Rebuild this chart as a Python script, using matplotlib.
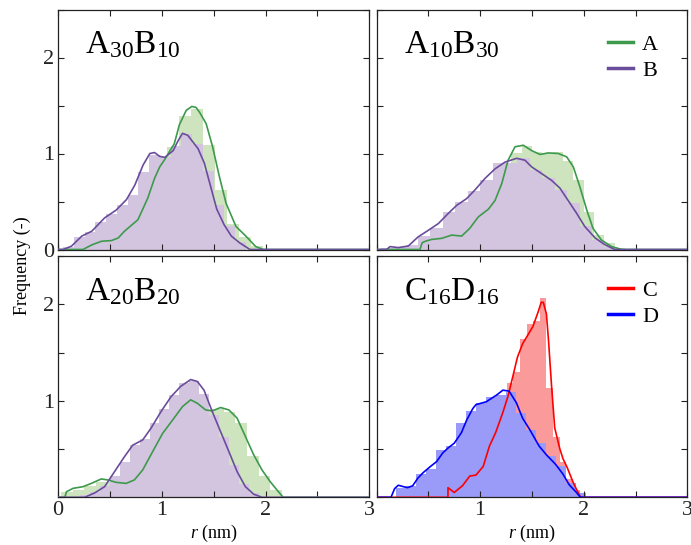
import numpy as np
import matplotlib
matplotlib.use("Agg")
import matplotlib.pyplot as plt
from matplotlib.lines import Line2D
from matplotlib.ticker import MultipleLocator, FuncFormatter

plt.rcParams['font.family'] = 'Liberation Serif'
plt.rcParams['mathtext.fontset'] = 'custom'
plt.rcParams['mathtext.rm'] = 'Liberation Serif'
plt.rcParams['mathtext.it'] = 'Liberation Serif:italic'

# ---------------- data ----------------
titles = ["A$_{30}$B$_{10}$", "A$_{10}$B$_{30}$", "A$_{20}$B$_{20}$", "C$_{16}$D$_{16}$"]

# Panel 1: A30B10
p1_A_start, p1_A_width = 0.24, 0.116
p1_A_hist = [0.05, 0.09, 0.10, 0.18, 0.28, 0.55, 0.87, 1.07, 1.39, 1.46, 1.09, 0.62, 0.27, 0.13, 0.04]
p1_B_start, p1_B_width = 0.05, 0.1035
p1_B_hist = [0.03, 0.13, 0.18, 0.29, 0.375, 0.46, 0.565, 0.81, 0.98, 0.96, 1.08, 1.20, 1.10, 0.82, 0.46, 0.24, 0.08]
p1_A_kx = [0.0, 0.24, 0.33, 0.42, 0.515, 0.58, 0.64, 0.77, 0.865, 0.93, 0.98, 1.03, 1.08, 1.12, 1.17, 1.236, 1.29, 1.33, 1.364, 1.428, 1.49, 1.555, 1.62, 1.715, 1.81, 1.906, 1.98, 3.0]
p1_A_ky = [0, 0, 0.05, 0.086, 0.093, 0.12, 0.19, 0.31, 0.535, 0.74, 0.86, 0.94, 1.03, 1.10, 1.30, 1.45, 1.49, 1.48, 1.43, 1.31, 1.07, 0.76, 0.48, 0.24, 0.14, 0.03, 0, 0]
p1_B_kx = [0.0, 0.05, 0.13, 0.23, 0.325, 0.45, 0.56, 0.66, 0.74, 0.82, 0.885, 0.93, 0.98, 1.03, 1.11, 1.156, 1.20, 1.25, 1.30, 1.35, 1.41, 1.47, 1.53, 1.60, 1.67, 1.75, 1.85, 3.0]
p1_B_ky = [0, 0, 0.035, 0.14, 0.19, 0.33, 0.41, 0.52, 0.67, 0.88, 1.00, 1.01, 0.97, 0.96, 1.03, 1.13, 1.21, 1.19, 1.12, 1.05, 0.90, 0.66, 0.42, 0.26, 0.14, 0.07, 0.0, 0]

# Panel 2: A10B30
p2_A_start, p2_A_width = 0.40, 0.10
p2_A_hist = [0.07, 0.11, 0.13, 0.15, 0.17, 0.30, 0.40, 0.52, 0.82, 1.01, 1.08, 1.02, 1.01, 1.02, 0.92, 0.72, 0.39, 0.15, 0.065, 0.02]
p2_B_start, p2_B_width = 0.04, 0.12
p2_B_hist = [0.02, 0.03, 0.05, 0.14, 0.22, 0.39, 0.50, 0.61, 0.72, 0.90, 0.90, 0.95, 0.83, 0.74, 0.62, 0.48, 0.24, 0.10, 0.03]
p2_A_kx = [0, 0.42, 0.44, 0.47, 0.533, 0.629, 0.726, 0.822, 0.90, 0.983, 1.08, 1.144, 1.21, 1.27, 1.337, 1.417, 1.498, 1.578, 1.658, 1.755, 1.836, 1.90, 1.964, 2.03, 2.09, 2.17, 2.27, 2.37, 3.0]
p2_A_ky = [0, 0, 0.07, 0.085, 0.105, 0.116, 0.15, 0.14, 0.22, 0.34, 0.42, 0.51, 0.69, 0.93, 1.07, 1.086, 1.03, 0.99, 1.006, 1.00, 0.965, 0.86, 0.65, 0.41, 0.22, 0.10, 0.03, 0, 0]
p2_B_kx = [0, 0.098, 0.13, 0.21, 0.307, 0.40, 0.50, 0.597, 0.693, 0.774, 0.87, 0.95, 1.047, 1.144, 1.24, 1.353, 1.433, 1.498, 1.595, 1.69, 1.77, 1.85, 1.93, 2.01, 2.11, 2.205, 2.30, 3.0]
p2_B_ky = [0, 0, 0.03, 0.02, 0.036, 0.13, 0.20, 0.27, 0.376, 0.46, 0.53, 0.62, 0.74, 0.84, 0.91, 0.95, 0.93, 0.86, 0.79, 0.72, 0.64, 0.51, 0.38, 0.24, 0.12, 0.05, 0, 0]

# Panel 3: A20B20
p3_A_start, p3_A_width = 0.03, 0.112
p3_A_hist = [0.05, 0.08, 0.12, 0.16, 0.16, 0.16, 0.22, 0.40, 0.62, 0.75, 0.92, 0.99, 0.92, 0.92, 0.88, 0.77, 0.43, 0.22, 0.08]
p3_B_start, p3_B_width = 0.21, 0.096
p3_B_hist = [0.02, 0.05, 0.12, 0.22, 0.37, 0.54, 0.60, 0.77, 0.92, 1.06, 1.18, 1.20, 1.07, 0.85, 0.62, 0.33, 0.14, 0.04]
p3_A_kx = [0, 0.066, 0.082, 0.146, 0.241, 0.321, 0.417, 0.48, 0.56, 0.656, 0.736, 0.816, 0.912, 1.008, 1.104, 1.20, 1.279, 1.343, 1.423, 1.487, 1.567, 1.647, 1.726, 1.806, 1.886, 1.966, 2.045, 2.11, 2.17, 3.0]
p3_A_ky = [0, 0, 0.058, 0.093, 0.11, 0.144, 0.19, 0.18, 0.155, 0.144, 0.18, 0.283, 0.473, 0.662, 0.80, 0.94, 1.01, 0.974, 0.905, 0.895, 0.93, 0.905, 0.82, 0.63, 0.44, 0.283, 0.162, 0.076, 0, 0]
p3_B_kx = [0, 0.257, 0.353, 0.449, 0.545, 0.64, 0.72, 0.816, 0.896, 0.992, 1.088, 1.183, 1.279, 1.343, 1.407, 1.487, 1.567, 1.647, 1.726, 1.806, 1.886, 1.966, 3.0]
p3_B_ky = [0, 0, 0.045, 0.11, 0.266, 0.42, 0.54, 0.594, 0.715, 0.887, 1.04, 1.15, 1.22, 1.20, 1.11, 0.887, 0.68, 0.473, 0.266, 0.11, 0.032, 0, 0]

# Panel 4: C16D16
p4_C_start, p4_C_width = 0.68, 0.064
p4_C_hist = [0.05, 0.08, 0.15, 0.18, 0.30, 0.45, 0.58, 0.68, 0.85, 1.18, 1.30, 1.64, 1.80, 1.83, 2.06, 1.13, 0.62, 0.37, 0.19, 0.08]
p4_D_start, p4_D_width = 0.19, 0.0963
p4_D_hist = [0.10, 0.12, 0.24, 0.29, 0.49, 0.53, 0.77, 0.89, 0.98, 1.04, 1.06, 1.09, 0.87, 0.70, 0.56, 0.43, 0.32, 0.15, 0.04]
p4_C_kx = [0, 0.69, 0.69, 0.75, 0.83, 0.90, 0.96, 1.03, 1.09, 1.15, 1.22, 1.27, 1.32, 1.36, 1.41, 1.46, 1.51, 1.56, 1.59, 1.61, 1.64, 1.66, 1.69, 1.72, 1.77, 1.80, 1.84, 1.90, 1.95, 1.97, 3.0]
p4_C_ky = [0, 0, 0.10, 0.05, 0.12, 0.22, 0.23, 0.32, 0.53, 0.67, 0.88, 1.05, 1.27, 1.45, 1.59, 1.68, 1.77, 1.92, 2.02, 2.02, 1.90, 1.63, 1.15, 0.72, 0.50, 0.40, 0.31, 0.15, 0.04, 0, 0]
p4_D_kx = [0, 0.14, 0.175, 0.21, 0.26, 0.30, 0.35, 0.40, 0.45, 0.51, 0.58, 0.64, 0.69, 0.75, 0.82, 0.87, 0.93, 0.96, 1.06, 1.16, 1.22, 1.28, 1.35, 1.41, 1.48, 1.57, 1.64, 1.73, 1.80, 1.86, 1.93, 1.96, 1.98, 3.0]
p4_D_ky = [0, 0, 0.09, 0.125, 0.11, 0.10, 0.12, 0.20, 0.255, 0.31, 0.37, 0.46, 0.51, 0.56, 0.67, 0.80, 0.92, 0.96, 0.99, 1.06, 1.11, 1.10, 0.98, 0.82, 0.70, 0.53, 0.44, 0.34, 0.24, 0.13, 0.05, 0.01, 0, 0]

# ---------------- styles ----------------
GREEN_L, GREEN_F = '#3d9a4c', '#cde4bf'
PURP_L, PURP_F = '#6a4c9c', '#d3c5df'
RED_L, RED_F = '#ff0000', '#fa9a9a'
BLUE_L, BLUE_F = '#0000ff', '#9a9af8'

fig = plt.figure(figsize=(6.91, 5.45), dpi=100)
W, H = 691.0, 545.0
def rect(x0, x1, ytop, ybot):
    return [x0 / W, (H - ybot) / H, (x1 - x0) / W, (ybot - ytop) / H]

axes = [
    fig.add_axes(rect(58, 369.3, 9.5, 249.5)),
    fig.add_axes(rect(376.5, 687.3, 9.5, 249.5)),
    fig.add_axes(rect(58, 369.3, 256.0, 497.3)),
    fig.add_axes(rect(376.5, 687.3, 256.0, 497.3)),
]

panels = [
    [(p1_A_start, p1_A_width, p1_A_hist, p1_A_kx, p1_A_ky, GREEN_L, GREEN_F),
     (p1_B_start, p1_B_width, p1_B_hist, p1_B_kx, p1_B_ky, PURP_L, PURP_F)],
    [(p2_A_start, p2_A_width, p2_A_hist, p2_A_kx, p2_A_ky, GREEN_L, GREEN_F),
     (p2_B_start, p2_B_width, p2_B_hist, p2_B_kx, p2_B_ky, PURP_L, PURP_F)],
    [(p3_A_start, p3_A_width, p3_A_hist, p3_A_kx, p3_A_ky, GREEN_L, GREEN_F),
     (p3_B_start, p3_B_width, p3_B_hist, p3_B_kx, p3_B_ky, PURP_L, PURP_F)],
    [(p4_C_start, p4_C_width, p4_C_hist, p4_C_kx, p4_C_ky, RED_L, RED_F),
     (p4_D_start, p4_D_width, p4_D_hist, p4_D_kx, p4_D_ky, BLUE_L, BLUE_F)],
]

def int_fmt(hide_zero=False):
    def f(v, pos):
        if abs(v - round(v)) > 1e-6:
            return ''
        if hide_zero and abs(v) < 1e-6:
            return ''
        return '%d' % round(v)
    return FuncFormatter(f)

for i, ax in enumerate(axes):
    series = panels[i]
    for (st, w, h, kx, ky, lc, fc) in series:
        edges = st + w * np.arange(len(h) + 1)
        ax.stairs(h, edges, fill=True, color=fc, linewidth=0, zorder=1)
    for (st, w, h, kx, ky, lc, fc) in series:
        ax.plot(kx, ky, color=lc, lw=1.2, zorder=3, solid_joinstyle='round')
    ax.set_xlim(0, 3)
    ax.set_ylim(0, 2.5)
    ax.xaxis.set_major_locator(MultipleLocator(0.5))
    ax.yaxis.set_major_locator(MultipleLocator(0.5))
    ax.tick_params(direction='in', top=True, right=True, length=4, width=0.8,
                   labelsize=16, colors='#222222', pad=3)
    for s in ax.spines.values():
        s.set_linewidth(0.9)
        s.set_color('#222222')
    row, col = divmod(i, 2)
    if row == 0:
        ax.xaxis.set_major_formatter(FuncFormatter(lambda v, p: ''))
    else:
        ax.xaxis.set_major_formatter(int_fmt(hide_zero=(col == 1)))
        ax.set_xlabel('$r$ (nm)', fontsize=13, labelpad=2)
    if col == 1:
        ax.yaxis.set_major_formatter(FuncFormatter(lambda v, p: ''))
    else:
        ax.yaxis.set_major_formatter(int_fmt(hide_zero=(row == 1)))
    ax.text(0.087, 0.818, titles[i], transform=ax.transAxes, fontsize=24,
            ha='left', va='baseline')

leg_kw = dict(frameon=False, fontsize=16, handlelength=1.15, handletextpad=0.4,
              labelspacing=0.25, loc='upper left', borderaxespad=0)
axes[1].legend([Line2D([], [], color=GREEN_L, lw=2.5), Line2D([], [], color=PURP_L, lw=2.5)],
               ['A', 'B'], bbox_to_anchor=(0.715, 0.935), **leg_kw)
axes[3].legend([Line2D([], [], color=RED_L, lw=2.5), Line2D([], [], color=BLUE_L, lw=2.5)],
               ['C', 'D'], bbox_to_anchor=(0.715, 0.935), **leg_kw)

fig.text(22 / W, 1 - 266 / H, 'Frequency (-)', rotation=90, fontsize=13,
         ha='center', va='center')

fig.savefig('out.png', dpi=100)
